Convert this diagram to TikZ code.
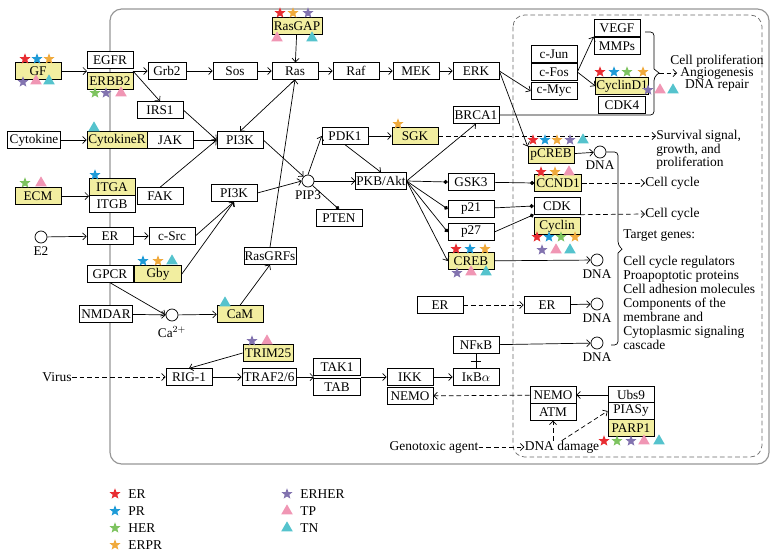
\documentclass[tikz,border=0pt]{standalone}
\usepackage{fontspec}
\setmainfont{Liberation Serif}
\usetikzlibrary{shapes.geometric,arrows.meta}
\definecolor{boxyellow}{RGB}{242,238,160}
\definecolor{cer}{RGB}{232,45,50}
\definecolor{cpr}{RGB}{30,155,215}
\definecolor{cher}{RGB}{125,195,95}
\definecolor{cerpr}{RGB}{240,170,60}
\definecolor{cerher}{RGB}{130,115,175}
\definecolor{ctp}{RGB}{240,150,180}
\definecolor{ctn}{RGB}{85,195,205}
\definecolor{framegray}{RGB}{150,150,150}

\begin{document}
\begin{tikzpicture}[x=0.03cm,y=-0.03cm,line width=0.6pt,>={Straight Barb[length=3pt,width=6pt]},
	every node/.style={font=\fontsize{11.3}{12}\selectfont},
	box/.style={draw,fill=white,minimum width=1.38cm,minimum height=0.5cm,inner sep=0.5pt},
	ybox/.style={box,fill=boxyellow},
	mol/.style={circle,draw,fill=white,minimum size=0.36cm,inner sep=0pt},
	txt/.style={inner sep=0pt,font=\fontsize{11.5}{12}\selectfont},
	mstar/.style={star,star points=5,star point ratio=2.3,minimum size=0.34cm,inner sep=0pt},
	mtri/.style={regular polygon,regular polygon sides=3,minimum size=0.4cm,inner sep=0pt},
	inhdot/.style={-{Circle[length=3.5pt]}},
	dashed/.style={dash pattern=on 4pt off 2.5pt}]
			\useasboundingbox (0,0) rectangle (779,558);
			\draw[framegray,line width=1pt,rounded corners=10] (110,9) rectangle (769,464); % cell membrane
			\draw[framegray!70!black,dashed,rounded corners=10] (513,15) rectangle (762,457); % nucleus

			% receptors and upstream
			\node[ybox] (gf) at (38,71) {GF};
			\node[box] (egfr) at (110,60) {EGFR};
			\node[ybox] (erbb2) at (110,81) {ERBB2};
			\node[box,minimum width=1.14cm] (grb2) at (167,71) {Grb2};
			\node[box,minimum width=1.32cm] (sos) at (235,71) {Sos};
			\node[box] (ras) at (295,71) {Ras};
			\node[ybox,minimum width=1.5cm] (rasgap) at (297,26) {RasGAP};
			\node[box] (raf) at (356,71) {Raf};
			\node[box] (mek) at (416,71) {MEK};
			\node[box] (erk) at (476,71) {ERK};
			\node[box] (irs1) at (160,110) {IRS1};
			\node[box,minimum width=1.59cm] (cytok) at (34,140) {Cytokine};
			\node[ybox,minimum width=1.8cm] (cytokr) at (117,140) {CytokineR};
			\node[box] (jak) at (170,140) {JAK};
			\node[box] (pi3ka) at (240,140) {PI3K};
			\node[ybox] (ecm) at (38,196) {ECM};
			\node[ybox] (itga) at (112,187) {ITGA};
			\node[box] (itgb) at (112,204) {ITGB};
			\node[box] (fak) at (160,196) {FAK};
			\node[box] (pi3kb) at (234,193) {PI3K};
			\node[mol] (e2) at (41,237) {};
			\node (e2lab) at (41,251) {E2};
			\node[box] (era) at (110,236) {ER};
			\node[box] (csrc) at (172,236) {c-Src};
			\node[box] (gpcr) at (110,274) {GPCR};
			\node[ybox,minimum width=1.41cm] (gby) at (158,274) {Gby};
			\node[box,minimum width=1.59cm] (nmdar) at (106,314) {NMDAR};
			\node[mol] (ca) at (172,315) {};
			\node (calab) at (172,332) {Ca$^{2+}$};
			\node[ybox] (cam) at (240,314) {CaM};
			\node[box,minimum width=1.56cm] (rasgrf) at (270,256) {RasGRFs};

			% Akt branch
			\node[mol] (pip3) at (308,181) {};
			\node (pip3lab) at (308,195) {PIP3};
			\node[box] (pten) at (339,218) {PTEN};
			\node[box] (pdk1) at (345,136) {PDK1};
			\node[ybox] (sgk) at (415,136) {SGK};
			\node[box] (brca1) at (476,115) {BRCA1};
			\node[box,minimum width=1.5cm] (pkb) at (381,181) {PKB/Akt};
			\node[box] (gsk3) at (471,182) {GSK3};
			\node[box] (p21) at (471,209) {p21};
			\node[box] (p27) at (471,232) {p27};
			\node[ybox] (creb) at (471,261) {CREB};
			\node[box] (erb) at (440,305) {ER};
			\node[box] (nfkb) at (476,345) {NFκB};
			\node[box] (ikba) at (476,377) {IκB$\alpha$};

			% virus branch
			\node[ybox,minimum width=1.5cm] (trim25) at (268,353) {TRIM25};
			\node[box] (rig1) at (189,377) {RIG-1};
			\node[box,minimum width=1.62cm] (traf) at (269,377) {TRAF2/6};
			\node[box,minimum width=1.41cm] (tak1) at (337,367) {TAK1};
			\node[box,minimum width=1.41cm] (tab) at (337,387) {TAB};
			\node[box] (ikk) at (410,377) {IKK};
			\node[box] (nemoa) at (410,396) {NEMO};

			% nucleus
			\node[box] (vegf) at (617,28) {VEGF};
			\node[box] (mmps) at (617,46) {MMPs};
			\node[box] (cjun) at (554,54) {c-Jun};
			\node[box] (cfos) at (554,72) {c-Fos};
			\node[box] (cmyc) at (554,91) {c-Myc};
			\node[ybox,minimum width=1.41cm] (cycd1) at (622,86) {CyclinD1};
			\node[box,minimum width=1.41cm] (cdk4) at (622,105) {CDK4};
			\node[ybox] (pcreb) at (551,155) {pCREB};
			\node[mol] (dna1) at (600,152) {};
			\node (dna1lab) at (600,165) {DNA};
			\node[ybox,minimum width=1.41cm] (ccnd1) at (558,183) {CCND1};
			\node[box] (cdk) at (557,206) {CDK};
			\node[ybox] (cyclin) at (557,226) {Cyclin};
			\node[mol] (dna2) at (597,260) {};
			\node (dna2lab) at (597,274) {DNA};
			\node[box] (erc) at (547,305) {ER};
			\node[mol] (dna3) at (597,304) {};
			\node (dna3lab) at (597,318) {DNA};
			\node[mol] (dna4) at (597,343) {};
			\node (dna4lab) at (597,357) {DNA};
			\node[box] (nemob) at (553,395) {NEMO};
			\node[box] (atm) at (553,412) {ATM};
			\node[box] (ubs9) at (631,395) {Ubs9};
			\node[box] (piasy) at (631,411) {PIASy};
			\node[ybox] (parp1) at (631,428) {PARP1};

			% free texts
			\node[txt] (virus) at (57,377) {Virus};
			\node[txt,align=center,font=\fontsize{11.5}{10.5}\selectfont] (cellpro) at (717,73) {Cell proliferation\\Angiogenesis\\DNA repair};
			\node[txt,align=left,anchor=west,font=\fontsize{11.5}{11.5}\selectfont] (surtxt) at (656,150) {Survival signal,\\growth, and\\proliferation};
			\node[txt,anchor=west] (cctxta) at (645,183) {Cell cycle};
			\node[txt,anchor=west] (cctxtb) at (645,214) {Cell cycle};
			\node[txt,anchor=west] (tgt) at (623,236) {Target genes:};
			\node[txt,align=left,anchor=west,font=\fontsize{11.5}{11.9}\selectfont] (genes) at (623,303) {Cell cycle regulators\\Proapoptotic proteins\\Cell adhesion molecules\\Components of the\\membrane and\\Cytoplasmic signaling\\cascade};
			\node[txt] (geno) at (434,447) {Genotoxic agent};
			\node[txt] (dnad) at (562,447) {DNA damage};

			% junction points
			\coordinate (rin) at (87,71);
			\coordinate (rout) at (133,71);
			\coordinate (iin) at (89,196);
			\coordinate (tin) at (314,377);
			\coordinate (tout) at (361,377);
			\coordinate (btipa) at (659,73);
			\coordinate (ang) at (677,73);
			\coordinate (inhb) at (476,361);

			% membrane signalling
			\draw[->] (gf) -- (rin);
			\draw[->] (rout) -- (grb2);
			\draw[->] (rout) -- (irs1.north);
			\draw[->] (grb2) -- (sos);
			\draw[->] (sos) -- (ras);
			\draw[->] (ras) -- (raf);
			\draw[->] (raf) -- (mek);
			\draw[->] (mek) -- (erk);
			\draw[->] (rasgap) -- (ras);
			\draw[->] (ras.south) -- (pi3ka.north);
			\draw[->] (rasgrf.north) -- (ras.south);
			\draw[->] (cam.north) -- (rasgrf.south);
			\draw[->] (cytok) -- (cytokr);
			\draw[->] (irs1.east) -- (pi3ka.west);
			\draw[->] (jak) -- (pi3ka);
			\draw[->] (fak.north) -- (pi3ka.west);
			\draw[->] (ecm) -- (iin);
			\draw[->] (e2) -- (era);
			\draw[->] (era) -- (csrc);
			\draw[->] (csrc.east) -- (pi3kb.south);
			\draw[->] (gby.east) -- (pi3kb.south);
			\draw[->] (gpcr.south) -- (ca.west);
			\draw[->] (nmdar) -- (ca);
			\draw[->] (ca) -- (cam);

			% PI3K / Akt
			\draw[->] (pi3kb.east) -- (pip3.west);
			\draw[->] (pi3ka.east) -- (pip3.north west);
			\draw[->] (pip3.north) -- (pdk1.west);
			\draw[->] (pip3) -- (pkb);
			\draw[inhdot] (pip3.south east) -- (pten.north);
			\draw[->] (pdk1) -- (sgk);
			\draw[->] (pdk1.south) -- (pkb.north);
			\draw[dashed,->] (sgk.east) -- (sgk.east -| surtxt.west);
			\draw[->] (pkb.east) -- (brca1.south);
			\draw[inhdot] (pkb.east) -- (gsk3.west);
			\draw[inhdot] (pkb.east) -- (p21.west);
			\draw[inhdot] (pkb.east) -- (p27.west);
			\draw[->] (pkb.east) -- (creb.west);
			\draw[inhdot] (gsk3) -- (ccnd1.west);
			\draw[inhdot] (p21) -- (cdk.west);
			\draw[inhdot] (p27.east) -- (cdk.south west);
			\draw[dashed,->] (ccnd1) -- (cctxta);
			\draw[dashed,->] (cdk.south east) -- (cctxtb.west);

			% MAPK to nucleus
			\draw[->] (erk.east) -- (cmyc.west);
			\draw[->] (erk.east) -- (pcreb.160);
			\draw[->] (cfos.east) -- (vegf.south west);
			\draw[->] (cfos.east) -- (cycd1.west);
			\draw[rounded corners=3] (brca1.east) -- (654,115) -- (654,77) [sharp corners]-- (btipa) -- (654,69) [rounded corners=3]-- (654,32) -- (645,32); % bracket
			\draw[dashed,->] (btipa) -- (ang);
			\draw[->] (pcreb) -- (dna1);
			\draw[rounded corners=3] (dna1.east) -- (618,152) -- (618,245) [sharp corners]-- (622,249) -- (618,253) [rounded corners=3]-- (618,345) -- (611,345); % bracket
			\draw[->] (creb) -- (dna2);
			\draw[dashed,->] (erb) -- (erc);
			\draw[->] (erc) -- (dna3);
			\draw[->] (nfkb) -- (dna4);
			\draw[-{Bar[width=9pt]}] (ikba.north) -- (inhb);
			\draw (inhb) -- (nfkb.south);

			% virus and DNA damage
			\draw[dashed,->] (virus) -- (rig1);
			\draw[->] (trim25.west) -- (rig1.north);
			\draw[->] (rig1) -- (traf);
			\draw[->] (traf) -- (tin);
			\draw[->] (tout) -- (ikk);
			\draw[->] (ikk) -- (ikba);
			\draw[dashed,->] (nemob) -- (nemoa);
			\draw[->] (ubs9) -- (nemob);
			\draw[dashed,->] (geno) -- (dnad);
			\draw[dashed,->] (dnad.north -| atm.south) -- (atm.south);
			\draw[dashed,->] (dnad.north) -- (piasy.west);

			% markers
			\node[mstar,fill=cer] (gf1) at (25,59) {}; \node[mstar,fill=cpr] (gf2) at (37,59) {}; \node[mstar,fill=cerpr] (gf3) at (49,59) {};
			\node[mstar,fill=cerher] (gf4) at (23,82) {}; \node[mtri,fill=ctp] (gf5) at (36,81) {}; \node[mtri,fill=ctn] (gf6) at (49,81) {};
			\node[mstar,fill=cher] (eb1) at (95,93) {}; \node[mstar,fill=cerher] (eb2) at (106,93) {}; \node[mtri,fill=ctp] (eb3) at (121,93) {};
			\node[mtri,fill=ctn] (ck1) at (94,128) {};
			\node[mstar,fill=cpr] (ig1) at (95,175) {};
			\node[mstar,fill=cher] (ec1) at (25,183) {}; \node[mtri,fill=ctp] (ec2) at (41,183) {};
			\node[mstar,fill=cpr] (gb1) at (143,261) {}; \node[mstar,fill=cerpr] (gb2) at (158,261) {}; \node[mtri,fill=ctn] (gb3) at (172,261) {};
			\node[mtri,fill=ctn] (cm1) at (225,303) {};
			\node[mstar,fill=cer] (rg1) at (280,13) {}; \node[mstar,fill=cerpr] (rg2) at (293,13) {}; \node[mstar,fill=cerher] (rg3) at (308,13) {};
			\node[mtri,fill=ctp] (rg4) at (277,38) {}; \node[mtri,fill=ctn] (rg5) at (312,38) {};
			\node[mstar,fill=cerpr] (sg1) at (398,124) {};
			\node[mstar,fill=cerher] (tr1) at (252,341) {}; \node[mtri,fill=ctp] (tr2) at (267,341) {};
			\node[mstar,fill=cer] (cr1) at (456,249) {}; \node[mstar,fill=cpr] (cr2) at (470,249) {}; \node[mstar,fill=cerpr] (cr3) at (485,249) {};
			\node[mstar,fill=cerher] (cr4) at (457,273) {}; \node[mtri,fill=ctp] (cr5) at (471,272) {}; \node[mtri,fill=ctn] (cr6) at (486,272) {};
			\node[mstar,fill=cer] (cd1) at (600,72) {}; \node[mstar,fill=cpr] (cd2) at (614,72) {}; \node[mstar,fill=cher] (cd3) at (627,72) {}; \node[mstar,fill=cerpr] (cd4) at (643,72) {};
			\node[mstar,fill=cerher] (cd5) at (648,90) {}; \node[mtri,fill=ctp] (cd6) at (660,90) {}; \node[mtri,fill=ctn] (cd7) at (673,90) {};
			\node[mstar,fill=cer] (pc1) at (533,140) {}; \node[mstar,fill=cpr] (pc2) at (545,140) {}; \node[mstar,fill=cerpr] (pc3) at (557,140) {}; \node[mstar,fill=cerher] (pc4) at (570,140) {}; \node[mtri,fill=ctn] (pc5) at (583,140) {};
			\node[mstar,fill=cer] (cn1) at (541,172) {}; \node[mstar,fill=cerpr] (cn2) at (555,172) {}; \node[mtri,fill=ctp] (cn3) at (569,172) {};
			\node[mstar,fill=cer] (cy1) at (537,237) {}; \node[mstar,fill=cpr] (cy2) at (549,237) {}; \node[mstar,fill=cher] (cy3) at (561,237) {}; \node[mstar,fill=cerpr] (cy4) at (575,237) {};
			\node[mstar,fill=cerher] (cy5) at (542,250) {}; \node[mtri,fill=ctp] (cy6) at (556,250) {}; \node[mtri,fill=ctn] (cy7) at (570,250) {};
			\node[mstar,fill=cer] (pp1) at (604,441) {}; \node[mstar,fill=cher] (pp2) at (617,441) {}; \node[mstar,fill=cerher] (pp3) at (631,441) {}; \node[mtri,fill=ctp] (pp4) at (644,441) {}; \node[mtri,fill=ctn] (pp5) at (659,441) {};

			% legend
			\node[mstar,fill=cer] (lga) at (115,494) {}; \node[txt,anchor=west] (lgat) at (128,494) {ER};
			\node[mstar,fill=cpr] (lgb) at (115,511) {}; \node[txt,anchor=west] (lgbt) at (128,511) {PR};
			\node[mstar,fill=cher] (lgc) at (115,528) {}; \node[txt,anchor=west] (lgct) at (128,528) {HER};
			\node[mstar,fill=cerpr] (lgd) at (115,545) {}; \node[txt,anchor=west] (lgdt) at (128,545) {ERPR};
			\node[mstar,fill=cerher] (lge) at (287,494) {}; \node[txt,anchor=west] (lget) at (300,494) {ERHER};
			\node[mtri,fill=ctp] (lgf) at (287,511) {}; \node[txt,anchor=west] (lgft) at (300,511) {TP};
			\node[mtri,fill=ctn] (lgg) at (287,528) {}; \node[txt,anchor=west] (lggt) at (300,528) {TN};
		\end{tikzpicture}
\end{document}
